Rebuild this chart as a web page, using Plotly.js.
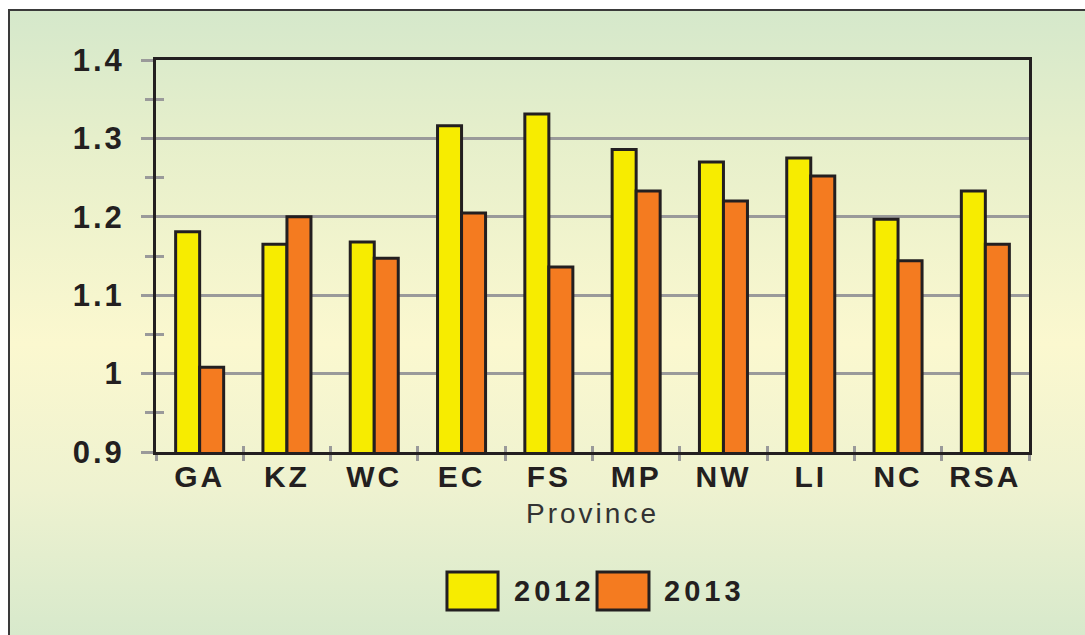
<!DOCTYPE html>
<html>
<head>
<meta charset="utf-8">
<script src="https://cdn.plot.ly/plotly-3.0.1.min.js"></script>
<style>
  html, body { margin: 0; padding: 0; background: #ffffff; }
  #wrap { position: relative; width: 1085px; height: 635px; overflow: hidden; background: #ffffff; }
  #bg { position: absolute; left: 8px; top: 9px; width: 1090px; height: 640px;
        border-left: 2px solid #3a3a3a; border-top: 2px solid #3a3a3a;
        background: linear-gradient(to bottom, #d5e8cb 0%, #e6efcb 20%, #fbf8cf 52%, #eef2d0 75%, #d5e8cb 100%); }
  #chart { position: absolute; left: 0; top: 0; width: 1085px; height: 635px; }
  .xtick text { letter-spacing: 3px; }
  .ytick text { letter-spacing: 3px; }
  .g-xtitle text { letter-spacing: 3px; }
  .annotation-text { letter-spacing: 4px; }
</style>
</head>
<body>
<div id="wrap">
  <div id="bg"></div>
  <div id="chart"></div>
</div>
<script>
const provinces = ["GA", "KZ", "WC", "EC", "FS", "MP", "NW", "LI", "NC", "RSA"];
const values2012 = [1.181, 1.165, 1.168, 1.316, 1.331, 1.286, 1.270, 1.275, 1.197, 1.233];
const values2013 = [1.008, 1.200, 1.147, 1.205, 1.136, 1.233, 1.220, 1.252, 1.144, 1.165];
const seriesNames = ["2012", "2013"];
const seriesColors = ["#f7ec00", "#f47b20"];

const outline = "#231f20";
const textColor = "#231f20";
const font = "Liberation Sans, Arial, sans-serif";

const traces = [values2012, values2013].map((vals, i) => ({
  type: "bar",
  name: seriesNames[i],
  x: provinces,
  y: vals,
  marker: { color: seriesColors[i], line: { color: outline, width: 3 } },
  showlegend: false,
  hoverinfo: "x+y"
}));

// custom legend (big swatches as in the reference)
const legendBoxes = [
  { x0: 0.3333, x1: 0.3918 },
  { x0: 0.5052, x1: 0.5647 }
];
const legendTextX = [0.4078, 0.5796];
const shapes = legendBoxes.map((b, i) => ({
  type: "rect", xref: "paper", yref: "paper",
  x0: b.x0, x1: b.x1, y0: -0.306, y1: -0.403,
  fillcolor: seriesColors[i], line: { color: outline, width: 3 }
}));
const annotations = seriesNames.map((n, i) => ({
  xref: "paper", yref: "paper", x: legendTextX[i], y: -0.3546,
  xanchor: "left", yanchor: "middle", text: "<b>" + n + "</b>", showarrow: false,
  font: { family: font, size: 29, color: textColor }
}));

const layout = {
  width: 1085, height: 635,
  margin: { l: 156, r: 56, t: 60, b: 183 },
  paper_bgcolor: "rgba(0,0,0,0)",
  plot_bgcolor: "rgba(0,0,0,0)",
  barmode: "group",
  bargap: 0.45,
  bargroupgap: 0,
  font: { family: font, color: textColor },
  xaxis: {
    type: "category",
    tickson: "boundaries",
    ticks: "outside", ticklen: 6, tickwidth: 3, tickcolor: "#9a9a9a",
    showline: true, linecolor: outline, linewidth: 3, mirror: true,
    showgrid: false,
    tickfont: { family: font, size: 30, color: textColor, weight: "bold" },
    ticklabelstandoff: -4,
    title: { text: "Province", font: { family: font, size: 28, color: "#333333" }, standoff: 12 }
  },
  yaxis: {
    range: [0.9, 1.4], dtick: 0.1, tick0: 0.9,
    ticks: "outside", ticklen: 12, tickwidth: 3, tickcolor: "#9a9a9a",
    minor: { dtick: 0.05, ticks: "outside", ticklen: 8, tickwidth: 3, tickcolor: "#9a9a9a", showgrid: false },
    showline: true, linecolor: outline, linewidth: 3, mirror: true,
    showgrid: true, gridcolor: "#9a9a9a", gridwidth: 3,
    zeroline: false,
    tickfont: { family: font, size: 31, color: textColor, weight: "bold" },
    ticklabelstandoff: 10
  },
  yaxis2: {
    overlaying: "y", side: "left", range: [0.9, 1.4], dtick: 0.1, tick0: 0.9,
    ticks: "inside", ticklen: 12, tickwidth: 3, tickcolor: "#9a9a9a",
    minor: { dtick: 0.05, ticks: "inside", ticklen: 8, tickwidth: 3, tickcolor: "#9a9a9a", showgrid: false },
    showticklabels: false, showgrid: false, showline: false, zeroline: false
  },
  xaxis2: {
    overlaying: "x", side: "bottom", type: "linear", range: [-0.5, provinces.length - 0.5], tick0: -0.5, dtick: 1,
    ticks: "inside", ticklen: 6, tickwidth: 3, tickcolor: "#9a9a9a",
    showticklabels: false, showgrid: false, showline: false, zeroline: false
  },
  shapes: shapes,
  annotations: annotations
};

// a hidden trace so the overlay axes are drawn
traces.push({
  type: "scatter", x: [null], y: [null], xaxis: "x2", yaxis: "y2",
  showlegend: false, hoverinfo: "skip"
});

Plotly.newPlot("chart", traces, layout, { displayModeBar: false, staticPlot: true });
</script>
</body>
</html>
